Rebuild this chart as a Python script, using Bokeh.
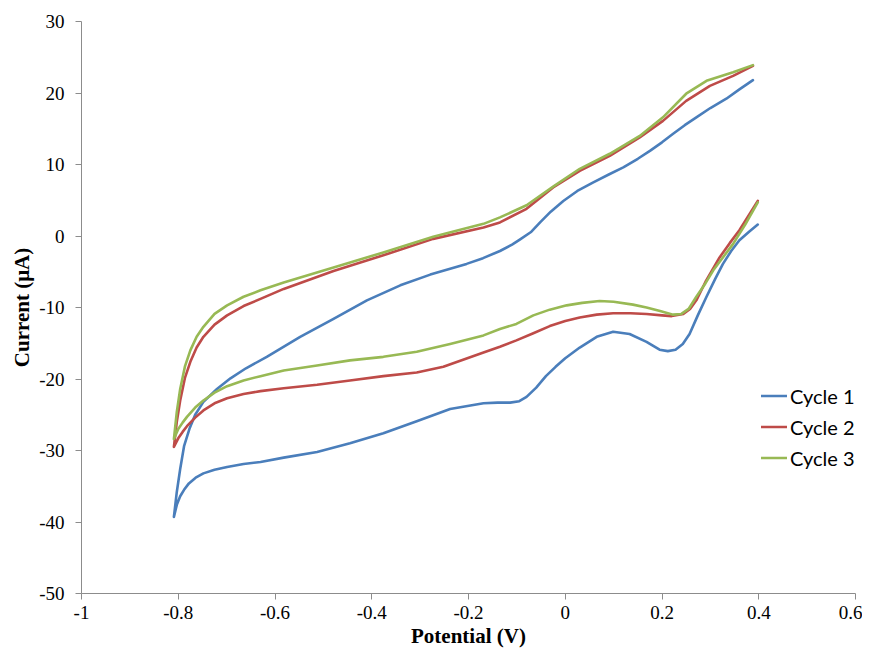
from bokeh.plotting import figure
from bokeh.models import FixedTicker, Legend, LegendItem, Range1d
from bokeh.embed import file_html
from bokeh.resources import INLINE

c1_x = [0.388, 0.360, 0.333, 0.300, 0.271, 0.247, 0.223, 0.200, 0.175, 0.150, 0.120, 0.090,
        0.058, 0.025, -0.004, -0.030, -0.052, -0.070, -0.094, -0.110, -0.135, -0.170,
        -0.204, -0.279, -0.341, -0.410, -0.479, -0.548, -0.617, -0.660, -0.692, -0.720,
        -0.748, -0.765, -0.777, -0.788, -0.796, -0.803, -0.809,
        -0.803, -0.796, -0.788, -0.778, -0.764, -0.748, -0.725, -0.699, -0.665, -0.630,
        -0.582, -0.513, -0.445, -0.376, -0.307, -0.238, -0.169, -0.140, -0.114, -0.095,
        -0.080, -0.060, -0.040, -0.020, 0.000, 0.030, 0.065, 0.099, 0.133, 0.168, 0.195,
        0.212, 0.228, 0.243, 0.257, 0.274, 0.292, 0.310, 0.326, 0.343, 0.360, 0.380, 0.398]
c1_y = [21.8, 20.5, 19.2, 17.9, 16.6, 15.5, 14.3, 13.1, 11.9, 10.8, 9.6, 8.6,
        7.5, 6.3, 4.9, 3.4, 1.9, 0.6, -0.5, -1.2, -2.1, -3.1,
        -3.9, -5.4, -6.9, -9.0, -11.6, -14.1, -16.9, -18.5, -19.9, -21.4,
        -23.2, -25.0, -27.0, -29.4, -32.6, -35.8, -39.3,
        -37.6, -36.4, -35.5, -34.6, -33.8, -33.2, -32.7, -32.3, -31.9, -31.6,
        -31.0, -30.2, -29.0, -27.6, -25.9, -24.2, -23.4, -23.3, -23.3, -23.1,
        -22.5, -21.2, -19.6, -18.3, -17.1, -15.6, -14.1, -13.4, -13.7, -14.8, -15.9,
        -16.1, -15.9, -15.1, -13.7, -11.1, -8.5, -6.0, -3.9, -2.1, -0.6, 0.6, 1.6]

c2_x = [0.388, 0.347, 0.299, 0.250, 0.202, 0.154, 0.092, 0.030, -0.025, -0.080, -0.135,
        -0.169, -0.273, -0.376, -0.479, -0.582, -0.630, -0.665, -0.699, -0.725, -0.748,
        -0.762, -0.775, -0.786, -0.796, -0.803, -0.809,
        -0.800, -0.791, -0.782, -0.765, -0.748, -0.725, -0.699, -0.665, -0.630,
        -0.582, -0.513, -0.445, -0.376, -0.307, -0.252, -0.169, -0.135, -0.101, -0.066,
        -0.032, 0.000, 0.030, 0.065, 0.099, 0.135, 0.168, 0.200, 0.220, 0.244, 0.258,
        0.271, 0.290, 0.319, 0.340, 0.360, 0.398]
c2_y = [23.8, 22.4, 21.0, 18.9, 16.1, 13.8, 11.2, 9.1, 6.8, 3.8, 1.9,
        1.2, -0.4, -2.7, -4.9, -7.4, -8.8, -9.8, -11.1, -12.4, -14.1,
        -15.6, -17.6, -19.8, -23.0, -26.0, -29.5,
        -28.3, -27.4, -26.6, -25.4, -24.4, -23.4, -22.7, -22.1, -21.7,
        -21.3, -20.8, -20.2, -19.6, -19.1, -18.3, -16.3, -15.5, -14.6, -13.6,
        -12.6, -11.9, -11.4, -11.0, -10.8, -10.8, -10.9, -11.1, -11.2, -10.9, -10.2,
        -9.0, -6.4, -3.0, -1.0, 0.8, 4.9]

c3_x = [0.388, 0.347, 0.292, 0.250, 0.202, 0.154, 0.092, 0.030, -0.025, -0.080, -0.135,
        -0.169, -0.273, -0.376, -0.479, -0.582, -0.630, -0.665, -0.699, -0.725, -0.748,
        -0.762, -0.775, -0.786, -0.796, -0.803, -0.809,
        -0.800, -0.791, -0.782, -0.765, -0.748, -0.725, -0.699, -0.665, -0.630,
        -0.582, -0.513, -0.445, -0.376, -0.307, -0.238, -0.169, -0.135, -0.101, -0.066,
        -0.032, 0.003, 0.035, 0.071, 0.100, 0.140, 0.168, 0.196, 0.223, 0.240, 0.255,
        0.271, 0.290, 0.306, 0.327, 0.347, 0.372, 0.398]
c3_y = [23.9, 22.9, 21.7, 19.9, 16.6, 14.0, 11.5, 9.4, 6.9, 4.3, 2.6,
        1.7, -0.1, -2.3, -4.4, -6.5, -7.6, -8.5, -9.7, -10.9, -12.7,
        -14.1, -16.0, -18.2, -21.4, -24.6, -28.4,
        -27.0, -26.1, -25.3, -24.0, -23.0, -21.9, -21.0, -20.2, -19.6,
        -18.8, -18.1, -17.4, -16.9, -16.2, -15.1, -13.9, -13.0, -12.3, -11.1,
        -10.3, -9.7, -9.35, -9.1, -9.2, -9.6, -10.0, -10.5, -11.0, -10.9, -10.2,
        -8.5, -6.6, -4.8, -2.9, -1.1, 1.6, 4.7]

series_names = ["Cycle 1", "Cycle 2", "Cycle 3"]
series_colors = ["#4A7EBB", "#BE4B48", "#98B954"]

x_ticks = [-1, -0.8, -0.6, -0.4, -0.2, 0, 0.2, 0.4, 0.6]
x_tick_labels = ["-1", "-0.8", "-0.6", "-0.4", "-0.2", "0", "0.2", "0.4", "0.6"]
y_ticks = [-50, -40, -30, -20, -10, 0, 10, 20, 30]
y_tick_labels = ["-50", "-40", "-30", "-20", "-10", "0", "10", "20", "30"]

p = figure(width=862, height=650, output_backend="svg", toolbar_location=None,
           x_range=Range1d(-1, 0.6), y_range=Range1d(-50, 30),
           min_border_left=81, min_border_right=7, min_border_top=21, min_border_bottom=56)
p.outline_line_color = None
p.xgrid.grid_line_color = None
p.ygrid.grid_line_color = None

renderers = []
for xs, ys, col in zip([c1_x, c2_x, c3_x], [c1_y, c2_y, c3_y], series_colors):
    r = p.line(xs, ys, line_color=col, line_width=2.6, line_join="round", line_cap="round")
    renderers.append(r)

for ax in (p.xaxis[0], p.yaxis[0]):
    ax.axis_line_color = "#8C8C8C"
    ax.major_tick_line_color = "#8C8C8C"
    ax.minor_tick_line_color = None
    ax.major_tick_out = 6
    ax.major_tick_in = 0
    ax.major_label_text_font = "Liberation Serif"
    ax.major_label_text_font_size = "19px"
    ax.major_label_text_color = "black"
    ax.axis_label_text_font = "Liberation Serif"
    ax.axis_label_text_font_style = "bold"
    ax.axis_label_text_font_size = "21px"
    ax.axis_label_text_color = "black"

p.xaxis[0].ticker = FixedTicker(ticks=x_ticks)
p.xaxis[0].major_label_overrides = {t: l for t, l in zip(x_ticks, x_tick_labels)}
p.yaxis[0].ticker = FixedTicker(ticks=y_ticks)
p.yaxis[0].major_label_overrides = {t: l for t, l in zip(y_ticks, y_tick_labels)}
p.xaxis[0].axis_label = "Potential (V)"
p.yaxis[0].axis_label = "Current (μA)"
p.xaxis[0].major_label_standoff = 6
p.xaxis[0].axis_label_standoff = 2
p.yaxis[0].major_label_standoff = 11
p.yaxis[0].axis_label_standoff = 2

legend = Legend(items=[LegendItem(label=n, renderers=[r]) for n, r in zip(series_names, renderers)],
                location=(680, 120), orientation="vertical",
                glyph_width=26, glyph_height=31, label_height=31, spacing=0, padding=0, margin=0,
                label_standoff=3, border_line_color=None, background_fill_alpha=0,
                label_text_font="Lato", label_text_font_size="20px", label_text_color="black")
p.add_layout(legend)

open("out.html", "w").write(file_html(p, INLINE))
